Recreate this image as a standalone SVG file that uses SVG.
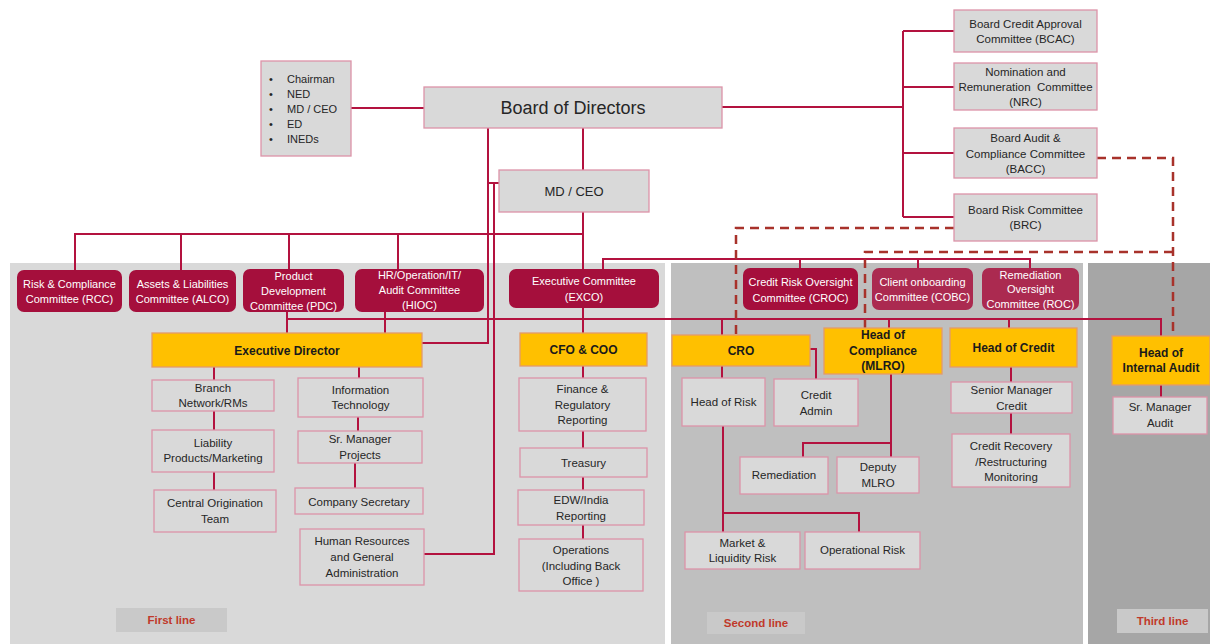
<svg xmlns="http://www.w3.org/2000/svg" width="1210" height="644" viewBox="0 0 1210 644">
<style>
text{font-family:"Liberation Sans",Arial,sans-serif;text-anchor:middle;fill:#262626;font-size:11.5px}
.box{fill:#d9d9d9;stroke:#dc93a8;stroke-width:1.3}
.com{fill:#a50f3c}
.com2{fill:#ab2a50}
.wt{fill:#ffffff;font-size:11px}
.org{fill:#ffc000;stroke:#e39a6a;stroke-width:1.3}
.bt{font-weight:bold;font-size:12px;fill:#1a1a1a}
.ln{fill:none;stroke:#b3123f;stroke-width:2}
.dash{fill:none;stroke:#a8322b;stroke-width:2.5;stroke-dasharray:9 6}
.lab{fill:#c9c9c9}
.lt{fill:#c0392b;font-weight:bold;font-size:11.5px}
</style>
<g id="panels">
<rect x="10" y="263" width="655" height="381" fill="#d9d9d9"/>
<rect x="671" y="263" width="412" height="381" fill="#bfbfbf"/>
<rect x="1088" y="263" width="122" height="381" fill="#a6a6a6"/>
</g>
<g id="connectors">
<path class="ln" d="M351,108 H424"/>
<path class="ln" d="M722,107 H903 M903,31 V217 M903,31 H954 M903,87 H954 M903,153 H954 M903,217 H954"/>
<path class="ln" d="M583,128 V170"/>
<path class="ln" d="M488,128 V343 H422"/>
<path class="ln" d="M488,183 H499"/>
<path class="ln" d="M494,184 V554 H424"/>
<path class="ln" d="M583,212 V269"/>
<path class="ln" d="M75,234 H583 M75,233 V270 M181,234 V270 M289,234 V269 M398,234 V269"/>
<path class="ln" d="M603,269 V259 H1030 V268 M800,259 V268 M918,259 V268"/>
<path class="ln" d="M287,319 H1161 V336 M287,312 V333 M385,312 V333 M583,308 V333 M722,319 V335 M889,319 V328 M1009,319 V328"/>
<path class="ln" d="M214,367 V380 M214,411 V430 M214,472 V490"/>
<path class="ln" d="M359,367 V378 M358,417 V431 M355,463 V488"/>
<path class="ln" d="M583,366 V378 M583,431 V448 M583,477 V490 M583,525 V539"/>
<path class="ln" d="M722,366 V378 M810,349 H816 V379"/>
<path class="ln" d="M723,426 V532 M723,513 H859 V532"/>
<path class="ln" d="M891,374 V457 M891,443 H803 V457"/>
<path class="ln" d="M1011,367 V382 M1011,413 V434"/>
<path class="ln" d="M1161,385 V397"/>
<path class="dash" d="M954,228 H736 V335"/>
<path class="dash" d="M1097,158 H1173 V336"/>
<path class="dash" d="M1173,252 H865 V328"/>
</g>
<g id="members">
<rect class="box" x="261" y="61" width="90" height="95"/>
<g style="text-anchor:start;font-size:11px">
<text x="269" y="83" style="text-anchor:start;font-size:11px">•</text>
<text x="269" y="98" style="text-anchor:start;font-size:11px">•</text>
<text x="269" y="113" style="text-anchor:start;font-size:11px">•</text>
<text x="269" y="128" style="text-anchor:start;font-size:11px">•</text>
<text x="269" y="143" style="text-anchor:start;font-size:11px">•</text>
<text x="287" y="83" style="text-anchor:start;font-size:11px">Chairman</text>
<text x="287" y="98" style="text-anchor:start;font-size:11px">NED</text>
<text x="287" y="113" style="text-anchor:start;font-size:11px">MD / CEO</text>
<text x="287" y="128" style="text-anchor:start;font-size:11px">ED</text>
<text x="287" y="143" style="text-anchor:start;font-size:11px">INEDs</text>
</g>
</g>
<g id="board"><rect class="box" x="424" y="87" width="298" height="41"/><text x="573" y="114" style="font-size:18px">Board of Directors</text></g>
<g id="mdceo"><rect class="box" x="499" y="170" width="150" height="42"/><text x="574" y="196" style="font-size:13px">MD / CEO</text></g>
<g id="bcac"><rect class="box" x="954" y="10" width="143" height="42"/><text x="1025.5" y="28">Board Credit Approval</text><text x="1025.5" y="43">Committee (BCAC)</text></g>
<g id="nrc"><rect class="box" x="954" y="63" width="143" height="47"/><text x="1025.5" y="76">Nomination and</text><text x="1025.5" y="91" xml:space="preserve">Remuneration  Committee</text><text x="1025.5" y="106">(NRC)</text></g>
<g id="bacc"><rect class="box" x="954" y="128" width="143" height="50"/><text x="1025.5" y="142">Board Audit &amp;</text><text x="1025.5" y="158">Compliance Committee</text><text x="1025.5" y="173">(BACC)</text></g>
<g id="brc"><rect class="box" x="954" y="194" width="143" height="47"/><text x="1025.5" y="214">Board Risk Committee</text><text x="1025.5" y="229">(BRC)</text></g>
<g id="rcc"><rect class="com" x="17" y="270" width="105" height="42" rx="7"/><text class="wt" x="69.5" y="288">Risk &amp; Compliance</text><text class="wt" x="69.5" y="303">Committee (RCC)</text></g>
<g id="alco"><rect class="com" x="129" y="270" width="107" height="42" rx="7"/><text class="wt" x="182.5" y="288">Assets &amp; Liabilities</text><text class="wt" x="182.5" y="303">Committee (ALCO)</text></g>
<g id="pdc"><rect class="com" x="243" y="269" width="101" height="43" rx="7"/><text class="wt" x="293.5" y="280">Product</text><text class="wt" x="293.5" y="295">Development</text><text class="wt" x="293.5" y="310">Committee (PDC)</text></g>
<g id="hioc"><rect class="com" x="355" y="269" width="129" height="43" rx="7"/><text class="wt" x="419.5" y="279">HR/Operation/IT/</text><text class="wt" x="419.5" y="294">Audit Committee</text><text class="wt" x="419.5" y="309">(HIOC)</text></g>
<g id="exco"><rect class="com" x="509" y="269" width="150" height="39" rx="7"/><text class="wt" x="584" y="285">Executive Committee</text><text class="wt" x="584" y="301">(EXCO)</text></g>
<g id="croc"><rect class="com" x="743" y="268" width="115" height="42" rx="7"/><text class="wt" x="800.5" y="286">Credit Risk Oversight</text><text class="wt" x="800.5" y="302">Committee (CROC)</text></g>
<g id="cobc"><rect class="com2" x="872" y="268" width="101" height="42" rx="7"/><text class="wt" x="922.5" y="286">Client onboarding</text><text class="wt" x="922.5" y="301">Committee (COBC)</text></g>
<g id="roc"><rect class="com2" x="982" y="268" width="97" height="42" rx="7"/><text class="wt" x="1030.5" y="279">Remediation</text><text class="wt" x="1030.5" y="293">Oversight</text><text class="wt" x="1030.5" y="308">Committee (ROC)</text></g>
<g id="ed"><rect class="org" x="152" y="333" width="270" height="34"/><text class="bt" x="287" y="355">Executive Director</text></g>
<g id="cfo"><rect class="org" x="520" y="333" width="127" height="33"/><text class="bt" x="583.5" y="354">CFO &amp; COO</text></g>
<g id="cro"><rect class="org" x="672" y="335" width="138" height="31"/><text class="bt" x="741" y="355">CRO</text></g>
<g id="hocomp"><rect class="org" x="824" y="328" width="118" height="46"/><text class="bt" x="883" y="339">Head of</text><text class="bt" x="883" y="355">Compliance</text><text class="bt" x="883" y="370">(MLRO)</text></g>
<g id="hocredit"><rect class="org" x="950" y="328" width="127" height="39"/><text class="bt" x="1013.5" y="352">Head of Credit</text></g>
<g id="hoia"><rect class="org" x="1112" y="336" width="98" height="49"/><text class="bt" x="1161" y="357">Head of</text><text class="bt" x="1161" y="372">Internal Audit</text></g>
<g id="branch"><rect class="box" x="152" y="380" width="122" height="31"/><text x="213" y="392">Branch</text><text x="213" y="407">Network/RMs</text></g>
<g id="liability"><rect class="box" x="152" y="430" width="122" height="42"/><text x="213" y="447">Liability</text><text x="213" y="462">Products/Marketing</text></g>
<g id="cot"><rect class="box" x="154" y="490" width="122" height="42"/><text x="215" y="507">Central Origination</text><text x="215" y="523">Team</text></g>
<g id="it"><rect class="box" x="298" y="378" width="125" height="39"/><text x="360.5" y="394">Information</text><text x="360.5" y="409">Technology</text></g>
<g id="smp"><rect class="box" x="298" y="431" width="124" height="32"/><text x="360" y="443">Sr. Manager</text><text x="360" y="459">Projects</text></g>
<g id="cs"><rect class="box" x="295" y="488" width="128" height="26"/><text x="359" y="506">Company Secretary</text></g>
<g id="hr"><rect class="box" x="300" y="529" width="124" height="56"/><text x="362" y="545">Human Resources</text><text x="362" y="561">and General</text><text x="362" y="577">Administration</text></g>
<g id="fin"><rect class="box" x="519" y="378" width="127" height="53"/><text x="582.5" y="393">Finance &amp;</text><text x="582.5" y="409">Regulatory</text><text x="582.5" y="424">Reporting</text></g>
<g id="treasury"><rect class="box" x="520" y="448" width="127" height="29"/><text x="583.5" y="467">Treasury</text></g>
<g id="edw"><rect class="box" x="518" y="490" width="126" height="35"/><text x="581" y="504">EDW/India</text><text x="581" y="520">Reporting</text></g>
<g id="ops"><rect class="box" x="519" y="539" width="124" height="52"/><text x="581" y="554">Operations</text><text x="581" y="570">(Including Back</text><text x="581" y="585">Office )</text></g>
<g id="hor"><rect class="box" x="682" y="378" width="83" height="48"/><text x="723.5" y="406">Head of Risk</text></g>
<g id="ca"><rect class="box" x="774" y="379" width="84" height="47"/><text x="816" y="399">Credit</text><text x="816" y="415">Admin</text></g>
<g id="rem"><rect class="box" x="740" y="457" width="88" height="37"/><text x="784" y="479">Remediation</text></g>
<g id="dmlro"><rect class="box" x="837" y="457" width="82" height="36"/><text x="878" y="471">Deputy</text><text x="878" y="487">MLRO</text></g>
<g id="mlr"><rect class="box" x="685" y="532" width="115" height="37"/><text x="742.5" y="547">Market &amp;</text><text x="742.5" y="562">Liquidity Risk</text></g>
<g id="opr"><rect class="box" x="805" y="532" width="115" height="37"/><text x="862.5" y="554">Operational Risk</text></g>
<g id="smc"><rect class="box" x="951" y="382" width="121" height="31"/><text x="1011.5" y="394">Senior Manager</text><text x="1011.5" y="410">Credit</text></g>
<g id="crm"><rect class="box" x="952" y="434" width="118" height="53"/><text x="1011" y="450">Credit Recovery</text><text x="1011" y="466">/Restructuring</text><text x="1011" y="481">Monitoring</text></g>
<g id="sma"><rect class="box" x="1113" y="397" width="94" height="37"/><text x="1160" y="411">Sr. Manager</text><text x="1160" y="427">Audit</text></g>
<g id="labels">
<rect class="lab" x="116" y="608" width="111" height="24"/><text class="lt" x="171.5" y="624">First line</text>
<rect class="lab" x="707" y="612" width="98" height="22"/><text class="lt" x="756" y="627">Second line</text>
<rect class="lab" x="1117" y="609" width="91" height="24"/><text class="lt" x="1162.5" y="625">Third line</text>
</g>
</svg>
